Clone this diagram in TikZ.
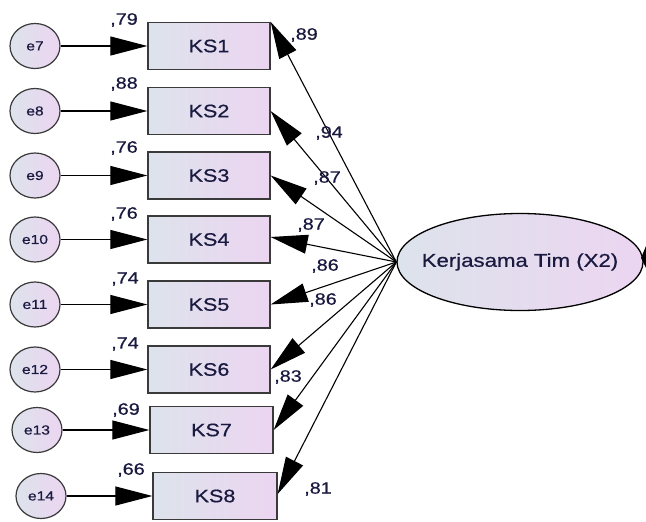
\documentclass[tikz,border=0pt]{standalone}
\usepackage{fontspec}
\setmainfont{Liberation Sans}[FakeStretch=1.2,FakeBold=0.6]
\usetikzlibrary{arrows.meta,shapes.geometric}
\definecolor{txt}{HTML}{1A1A40}
\definecolor{fillL}{HTML}{DDE3EC}
\definecolor{fillR}{HTML}{ECD5F1}
\definecolor{edge}{HTML}{3A3A3A}
\begin{document}
\begin{tikzpicture}[x=1pt,y=-1pt,
  obs/.style={draw=edge, line width=1.3pt, rectangle, minimum width=122pt, minimum height=47pt,
    left color=fillL, right color=fillR, inner sep=0pt, font=\fontsize{18}{20}\selectfont, text=txt},
  err/.style={draw=edge, line width=1.2pt, ellipse, minimum width=50pt, minimum height=45pt,
    left color=fillL, right color=fillR, inner sep=0pt, font=\fontsize{13}{15}\selectfont, text=txt},
  lat/.style={draw=black, line width=1.3pt, ellipse, minimum width=246pt, minimum height=97pt,
    left color=fillL, right color=fillR, inner sep=0pt, font=\fontsize{18.5}{20}\selectfont, text=txt},
  arr/.style={-{Triangle[length=37pt,width=19pt]}, line width=1.1pt, draw=black},
  lbl/.style={font=\fontsize{16.5}{18}\selectfont, text=txt, inner sep=0pt}]
\useasboundingbox (0,0) rectangle (646,522);

% latent
\node[lat] (lat) at (520,262) {\makebox[0pt]{Kerjasama Tim (X2)}};

% indicators
\node[obs] (k1) at (209,46) {KS1};
\node[obs] (k2) at (209,111) {KS2};
\node[obs] (k3) at (209,175.5) {KS3};
\node[obs] (k4) at (209,239.5) {KS4};
\node[obs] (k5) at (209,304.5) {KS5};
\node[obs] (k6) at (209,369.5) {KS6};
\node[obs, minimum width=123pt] (k7) at (211.5,430) {KS7};
\node[obs, minimum width=124pt] (k8) at (215,496) {KS8};

% errors
\node[err] (e7) at (35,46) {e7};
\node[err] (e8) at (35,111) {e8};
\node[err] (e9) at (35,175.5) {e9};
\node[err] (e10) at (35,239.5) {e10};
\node[err] (e11) at (35,304.5) {e11};
\node[err] (e12) at (35,369.5) {e12};
\node[err] (e13) at (37,430) {e13};
\node[err] (e14) at (41,496) {e14};

% error arrows
\foreach \e/\k in {e7/k1,e8/k2,e9/k3,e10/k4,e11/k5,e12/k6,e13/k7,e14/k8}
  \draw[arr] (\e) -- (\k);

% loadings
\draw[arr] (lat.west) -- (k1.north east);
\draw[arr] (lat.west) -- (k2.east);
\draw[arr] (lat.west) -- (k3.east);
\draw[arr] (lat.west) -- ([yshift=2.5pt]k4.east);
\draw[arr] (lat.west) -- (k5.east);
\draw[arr] (lat.west) -- (k6.east);
\draw[arr] (lat.west) -- (k7.east);
\draw[arr] (lat.west) -- ([yshift=2pt]k8.east);

% cut-off shape at right edge
\fill[black] (641,258) -- (646,246) -- (646,268) -- cycle;

% error labels
\node[lbl] (l1) at (124,20) {,79};
\node[lbl] (l2) at (124,84) {,88};
\node[lbl] (l3) at (124,148) {,76};
\node[lbl] (l4) at (124,214) {,76};
\node[lbl] (l5) at (125,279) {,74};
\node[lbl] (l6) at (125,344) {,74};
\node[lbl] (l7) at (126,410) {,69};
\node[lbl] (l8) at (131,470) {,66};

% loading labels
\node[lbl] (m1) at (304,35) {,89};
\node[lbl] (m2) at (329,133) {,94};
\node[lbl] (m3) at (327,178) {,87};
\node[lbl] (m4) at (311,225) {,87};
\node[lbl] (m5) at (325,266) {,86};
\node[lbl] (m6) at (323,300) {,86};
\node[lbl] (m7) at (288,377) {,83};
\node[lbl] (m8) at (318,489) {,81};
\end{tikzpicture}
\end{document}
